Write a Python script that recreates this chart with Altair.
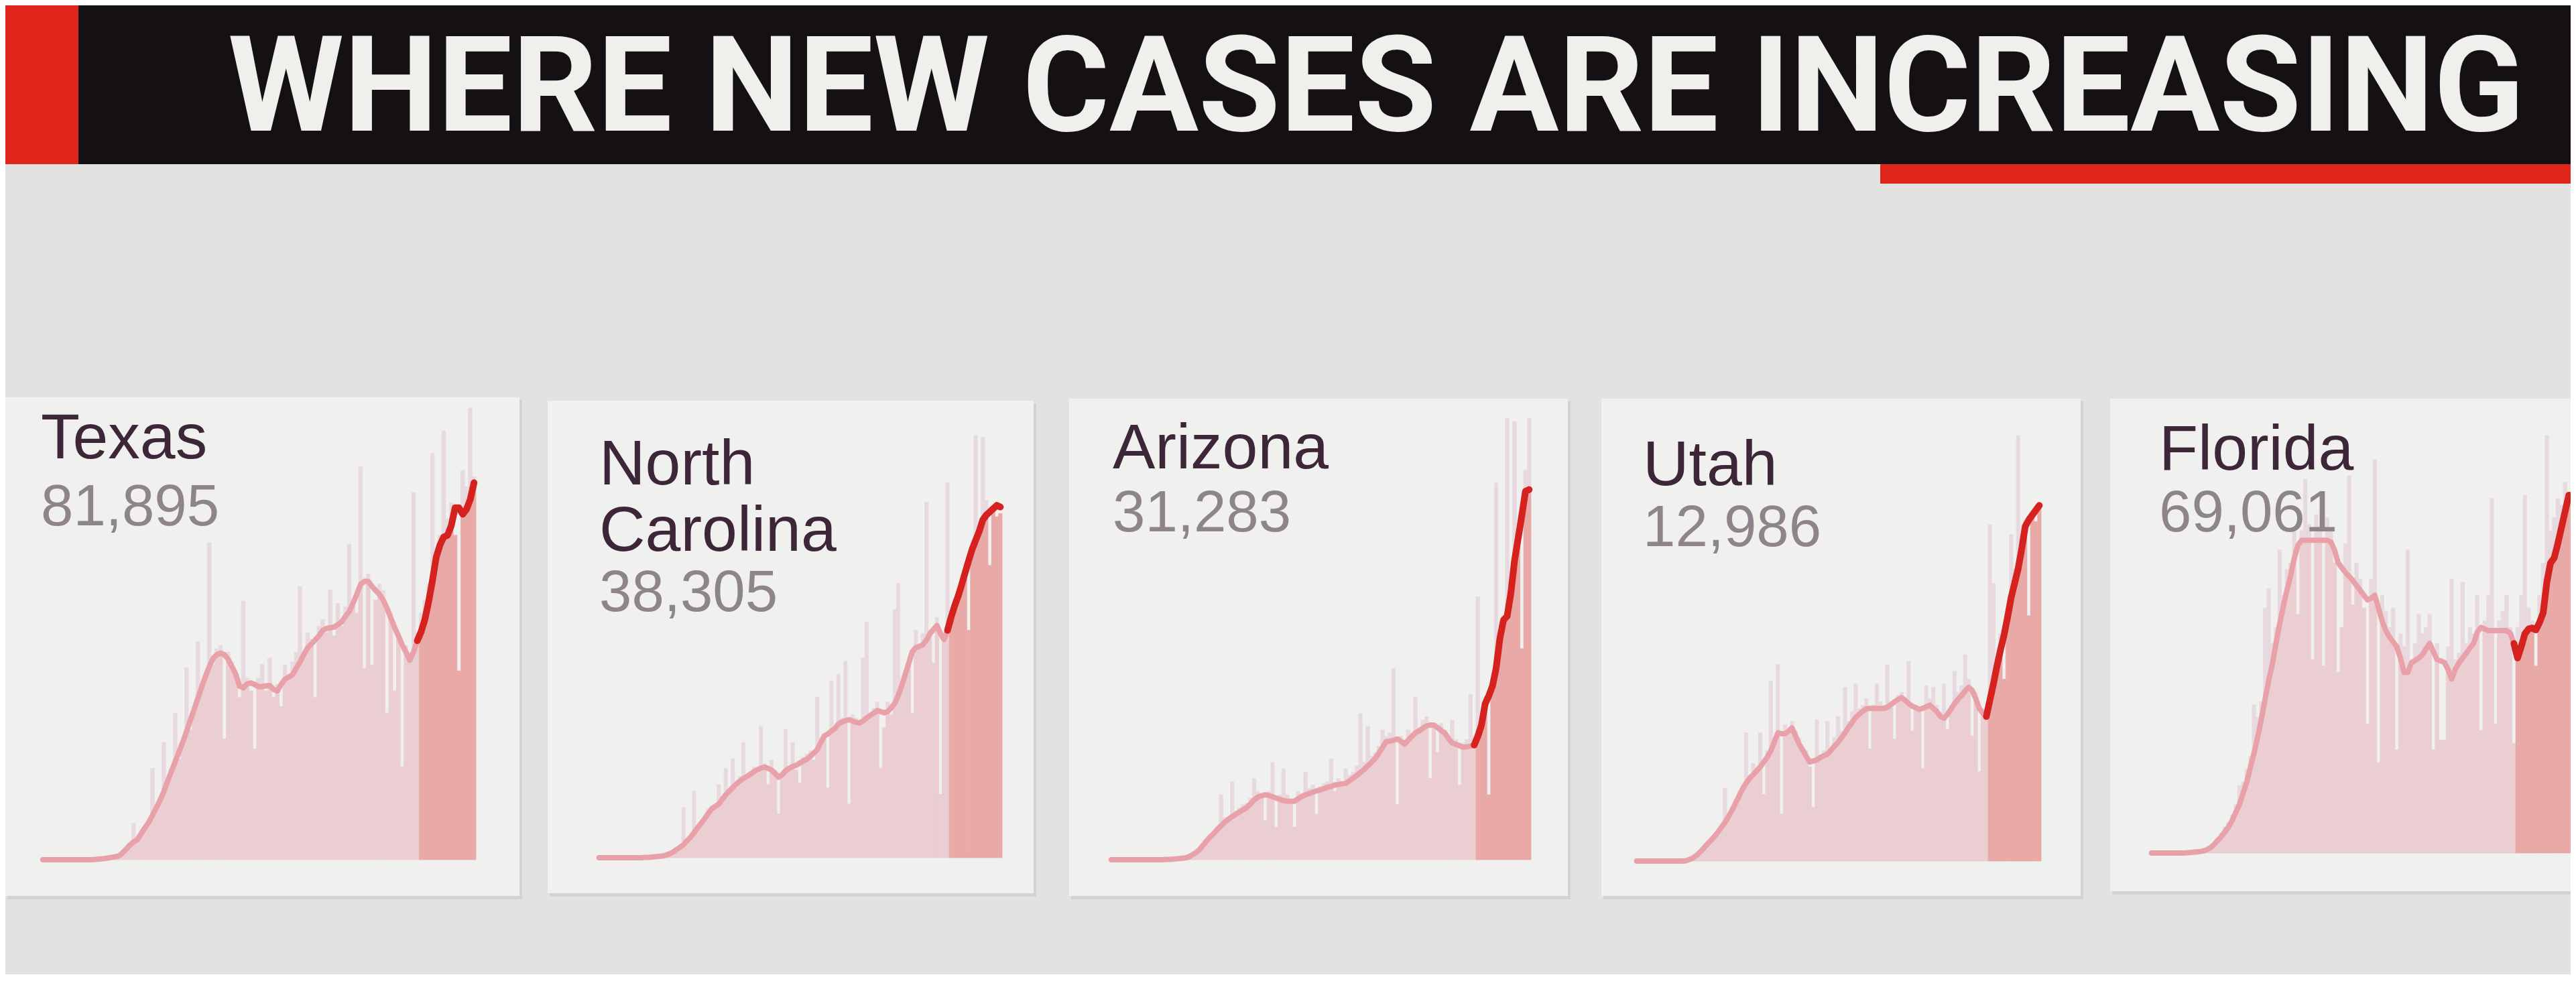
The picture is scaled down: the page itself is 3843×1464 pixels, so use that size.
import altair as alt
import pandas as pd

# ---------------- data (relative daily case heights) ----------------
TITLE = "WHERE NEW CASES ARE INCREASING"
STATES = ["Texas", "North\nCarolina", "Arizona", "Utah", "Florida"]
TOTALS = ["81,895", "38,305", "31,283", "12,986", "69,061"]
RECENT_START = 100  # first day of the highlighted last-14-days block

TX_DAILY = [0,0,0,0,0, 0,0,0,0,0, 0,1,0,1,2, 3,4,6,9,12,
            14,25,38,50,112, 58,75,102,118,282, 150,175,362,225,262, 452,310,350,592,400,
            470,672,520,560,977, 600,650,660,372,640, 610,560,500,797,560, 520,342,560,602,520,
            622,500,540,472,600, 560,610,640,842,620, 700,680,500,720,740, 700,832,690,790,720,
            780,972,800,760,1212, 590,880,600,800,850, 830,452,760,520,700, 287,660,640,1132,700,
            760,800,850,1252,950, 1000,1322,1050,1100,1000, 582,1200,1150,1392,1180]
TX_AVG = [0,0,0,0,0, 0,0,0,0,0, 0,0,0,0,1, 2,3,5,7,9,
          11,20,32,45,55, 62,80,98,115,137, 160,183,210,242,272, 302,332,362,395,430,
          463,497,532,565,595, 620,632,637,632,618, 595,572,535,530,542, 545,540,533,534,536,
          537,525,520,540,556, 563,570,590,610,632, 653,665,677,690,707, 713,715,717,725,733,
          750,765,790,818,848, 858,858,843,830,818, 800,775,745,716,690, 662,640,615,640,675,
          702,740,795,860,932, 970,995,1000,1030,1085, 1085,1065,1080,1110,1162]

NC_DAILY = [0,0,0,0,0, 0,0,0,0,0, 0,1,0,2,1, 3,4,5,7,10,
            14,20,28,36,155, 58,60,205,95,110, 125,150,160,150,225, 175,275,200,305,215,
            250,355,240,265,280, 260,405,290,225,300, 270,135,260,395,280, 355,270,230,310,320,
            330,300,495,340,380, 215,545,400,565,430, 605,165,440,430,420, 615,725,440,460,480,
            275,400,480,440,765, 845,520,560,600,445, 700,650,690,1095,700, 600,740,195,680,1155,
            760,800,820,860,900, 700,950,1300,1020,1295, 1100,900,1080,1050,1060]
NC_AVG = [0,0,0,0,0, 0,0,0,0,0, 0,0,0,1,1, 2,3,4,5,8,
          12,17,25,32,40, 52,63,77,92,106, 120,136,150,158,165, 180,194,205,216,227,
          236,244,250,257,265, 271,276,279,275,270, 260,248,255,268,275, 281,285,291,298,303,
          312,322,333,355,375, 381,390,398,412,418, 422,425,421,417,415, 421,430,438,445,453,
          450,446,450,462,475, 500,530,565,600,635, 647,651,656,670,690, 703,715,690,672,700,
          740,775,805,840,878, 915,950,978,1005,1040, 1055,1065,1075,1085,1080]

AZ_DAILY = [0,0,0,0,0, 0,0,0,0,0, 0,0,0,0,1, 1,2,2,4,5,
            6,10,18,25,36, 50,62,75,85,100, 200,130,120,240,150, 160,170,175,190,250,
            210,190,120,210,300, 100,200,280,200,175, 100,210,200,270,220, 230,140,225,235,240,
            310,210,250,240,280, 260,270,290,450,300, 410,320,330,350,400, 380,390,590,170,380,
            370,400,390,500,400, 430,440,250,420,330, 420,400,380,430,370, 230,360,370,510,380,
            810,430,500,200,540, 1160,700,750,1360,850, 1350,1000,650,1200,1360]
AZ_AVG = [0,0,0,0,0, 0,0,0,0,0, 0,0,0,0,0, 1,1,2,3,4,
          5,8,14,21,30, 44,58,70,81,94, 105,116,125,133,140, 147,154,161,172,184,
          193,197,200,198,194, 190,186,182,180,180, 180,188,195,200,204, 208,212,215,219,223,
          226,230,232,234,235, 243,251,260,269,278, 289,300,312,328,346, 364,365,368,372,365,
          356,368,380,391,397, 405,412,415,415,407, 398,390,373,360,356, 351,346,348,350,353,
          380,415,480,505,535, 590,680,738,750,820, 920,990,1060,1135,1140]

UT_DAILY = [0,0,0,0,0, 0,0,0,0,0, 0,0,0,1,2, 6,12,20,30,42,
            55,60,80,92,110, 225,140,165,190,215, 235,395,250,300,280, 395,205,340,555,380,
            605,145,420,410,430, 400,380,330,340,290, 165,435,320,340,430, 350,380,445,400,535,
            430,460,545,470,480, 500,345,480,545,490, 480,605,490,375,510, 520,500,615,400,480,
            470,285,540,500,535, 480,460,545,405,480, 585,520,540,635,560, 385,520,275,470,440,
            1035,855,620,700,560, 780,1005,900,1310,980, 1050,755,1080,1045,1100]
UT_AVG = [0,0,0,0,0, 0,0,0,0,0, 0,0,0,0,1, 5,10,18,28,40,
          52,63,75,89,104, 119,137,156,178,200, 222,240,255,266,278, 290,305,320,340,368,
          395,392,392,400,410, 385,360,342,322,305, 308,312,319,324,329, 341,354,365,380,395,
          412,427,442,452,461, 469,470,470,470,470, 470,474,482,490,497, 503,495,485,477,472,
          467,470,475,480,470, 460,445,440,452,468, 485,498,510,524,535, 525,500,470,455,445,
          495,545,600,650,695, 750,810,855,900,960, 1030,1050,1065,1080,1095]

FL_DAILY = [0,0,0,0,0, 0,0,1,2,2, 3,4,5,6,8, 12,20,30,45,60,
            80,95,120,150,210, 220,260,300,460,420, 470,760,820,650,700, 940,800,880,900,1000,
            740,1000,1160,1020,600, 1050,1000,580,1040,1000, 900,560,700,960,1170, 770,900,850,760,400,
            850,1220,280,800,750, 700,760,320,680,640, 940,600,650,740,680, 700,740,320,650,350,
            350,640,850,600,620, 840,650,700,680,800, 380,720,800,1100,400, 720,750,800,700,340,
            700,800,1110,760,720, 580,800,900,1295,1000, 1040,1100,1080,1150,1120]
FL_AVG = [0,0,0,0,0, 0,0,0,0,0, 1,2,3,4,6, 10,16,25,38,50,
          65,80,100,125,150, 185,220,265,310,360, 415,475,535,585,650, 710,765,815,860,915,
          955,970,970,970,970, 970,970,970,970,965, 940,900,885,870,858, 845,830,815,800,785,
          790,800,760,720,690, 670,655,640,605,560, 560,590,597,605,615, 633,650,625,600,596,
          591,570,540,570,590, 605,620,636,650,685, 700,695,690,690,690, 690,690,690,682,650,
          605,640,680,695,698, 692,715,745,840,900, 915,960,1010,1060,1110]

SERIES = [(TX_DAILY, TX_AVG), (NC_DAILY, NC_AVG), (AZ_DAILY, AZ_AVG), (UT_DAILY, UT_AVG), (FL_DAILY, FL_AVG)]

# ---------------- styling / layout ----------------
BG = "#e2e2e0"
CARD = "#f0f0ee"
SHADOW = "#d2d2d3"
BLACK = "#141014"
RED = "#e1251b"
TITLE_WHITE = "#efefec"
BAR_PALE = "#e7d9df"
BAR_LOW = "#ebced2"
BAR_RECENT = "#e9a9a7"
LINE_PINK = "#e9a1a9"
LINE_RED = "#d5221f"
NAME_COLOR = "#3c2637"
NUM_COLOR = "#8e858c"
FONT = "Liberation Sans"
TITLE_FONT = "Roboto"

TOTAL_W = 3827
HEAD_H = 330
PANEL_H = 1116

LAYOUT = [
    dict(w=800, card=(0, 767, 255, 999), px=(53, 702), base=945, top=271, tx=53, ty=346, ny=446),
    dict(w=777, card=(9, 734, 260, 995), px=(83, 687), base=942, top=312, tx=86, ty=385, ny=574),
    dict(w=787, card=(10, 754, 257, 999), px=(70, 699), base=945, top=286, tx=75, ty=361, ny=455),
    dict(w=763, card=(17, 732, 257, 999), px=(67, 673), base=947, top=312, tx=79, ty=386, ny=477),
    dict(w=700, card=(13, 700, 257, 992), px=(72, 700), base=935, top=312, tx=86, ty=363, ny=455),
]

ONE = pd.DataFrame({"k": [0]})


def box(x0, x1, y0, y1, color):
    return alt.Chart(ONE).mark_rect(color=color).encode(
        x=alt.value(x0), x2=alt.value(x1), y=alt.value(y0), y2=alt.value(y1))


def panel(name, total, daily, avg, L):
    n = len(daily)
    df = pd.DataFrame({"day": list(range(n)), "daily": daily, "avg": avg})
    df["day_end"] = df["day"] + 1
    df["mid"] = df["day"] + 0.5
    df["low"] = df[["daily", "avg"]].min(axis=1)
    df["zero"] = 0
    xs = alt.Scale(domain=[0, n], range=list(L["px"]), nice=False, zero=False)
    ys = alt.Scale(domain=[0, max(daily)], range=[L["base"], L["top"]], nice=False)
    X = alt.X("day:Q", scale=xs, axis=None)
    base = alt.Chart(df)

    pale = base.mark_rect(color=BAR_PALE, stroke=BAR_PALE, strokeWidth=0.6, clip=True).encode(
        x=X, x2="day_end", y=alt.Y("daily:Q", scale=ys, axis=None), y2="zero")
    low = base.transform_filter(alt.datum.day < RECENT_START).mark_rect(
        color=BAR_LOW, stroke=BAR_LOW, strokeWidth=0.6, clip=True).encode(
        x=X, x2="day_end", y=alt.Y("low:Q", scale=ys, axis=None), y2="zero")
    recent = base.transform_filter(alt.datum.day >= RECENT_START).mark_rect(
        color=BAR_RECENT, stroke=BAR_RECENT, strokeWidth=0.6, clip=True).encode(
        x=X, x2="day_end", y=alt.Y("low:Q", scale=ys, axis=None), y2="zero")
    line_old = base.transform_filter(alt.datum.day <= RECENT_START - 1).mark_line(
        color=LINE_PINK, strokeWidth=8, strokeCap="round", strokeJoin="round", clip=True).encode(
        x=alt.X("mid:Q", scale=xs, axis=None), y=alt.Y("avg:Q", scale=ys, axis=None))
    line_new = base.transform_filter(alt.datum.day >= RECENT_START - 1).mark_line(
        color=LINE_RED, strokeWidth=10, strokeCap="round", strokeJoin="round", clip=True).encode(
        x=alt.X("mid:Q", scale=xs, axis=None), y=alt.Y("avg:Q", scale=ys, axis=None))

    lab = pd.DataFrame({"name": [name], "total": [total]})
    name_t = alt.Chart(lab).mark_text(
        align="left", baseline="alphabetic", font=FONT, fontSize=95, color=NAME_COLOR,
        lineBreak="\n", lineHeight=99).encode(
        x=alt.value(L["tx"]), y=alt.value(L["ty"]), text="name:N")
    num_t = alt.Chart(lab).mark_text(
        align="left", baseline="alphabetic", font=FONT, fontSize=87, color=NUM_COLOR).encode(
        x=alt.value(L["tx"]), y=alt.value(L["ny"]), text="total:N")

    c = L["card"]
    shadow = box(c[0] + 3, min(c[1] + 4, L["w"]), c[2] + 4, c[3] + 5, SHADOW)
    card = box(c[0], c[1], c[2], c[3], CARD)
    return alt.layer(shadow, card, pale, low, recent, line_old, line_new, name_t, num_t).properties(
        width=L["w"], height=PANEL_H)


panels = [panel(STATES[i], TOTALS[i], SERIES[i][0], SERIES[i][1], LAYOUT[i]) for i in range(len(STATES))]

title_df = pd.DataFrame({"t": [TITLE]})
header = alt.layer(
    box(109, TOTAL_W, 0, 237, BLACK),
    box(0, 109, 0, 237, RED),
    box(2797, TOTAL_W, 237, 266, RED),
    alt.Chart(title_df).mark_text(
        align="left", baseline="alphabetic", font=TITLE_FONT,
        fontWeight="bold", fontSize=198, color=TITLE_WHITE).encode(
        x=alt.value(332), y=alt.value(187), text="t:N"),
).properties(width=TOTAL_W, height=HEAD_H)

chart = alt.vconcat(
    header,
    alt.hconcat(*panels, spacing=0),
    spacing=0,
).properties(background=BG, padding=0).configure_view(stroke=None)

chart.save("out.html", embed_options={"renderer": "svg", "actions": False})
